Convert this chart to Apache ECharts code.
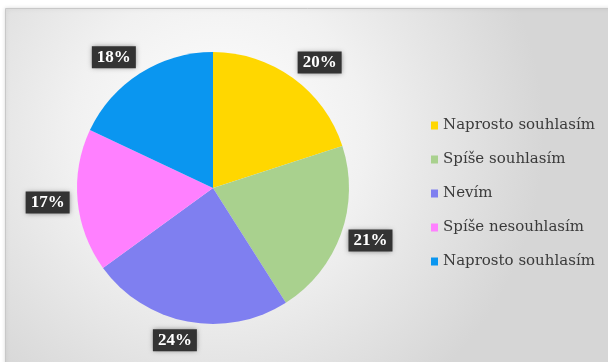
<!DOCTYPE html>
<html>
<head>
<meta charset="utf-8">
<script src="https://cdn.jsdelivr.net/npm/echarts@6/dist/echarts.min.js"></script>
<style>
  html, body { margin: 0; padding: 0; background: #ffffff; }
  #chart { width: 608px; height: 362px; }
</style>
</head>
<body>
<div id="chart"></div>
<script>
// Survey answers and their shares (percent)
const categories = ['Naprosto souhlasím', 'Spíše souhlasím', 'Nevím', 'Spíše nesouhlasím', 'Naprosto souhlasím '];
const shares = [20, 21, 24, 17, 18];
const colors = ['#FFD700', '#A9D18E', '#7F7FF0', '#FF80FF', '#0A96F0'];

const PIE_CENTER = [213, 188];
const PIE_RADIUS = 136;
const START_ANGLE = 90;

// Mid angle (degrees, counter-clockwise from +x) of each slice, drawn clockwise from START_ANGLE
const total = shares.reduce((a, b) => a + b, 0);
const midAngles = [];
let acc = 0;
shares.forEach(v => {
  midAngles.push(START_ANGLE - (acc + v / 2) / total * 360);
  acc += v;
});

const chart = echarts.init(document.getElementById('chart'), null, { renderer: 'canvas' });

chart.setOption({
  backgroundColor: '#ffffff',
  animation: false,
  color: colors,
  graphic: [{
    type: 'rect',
    z: -10,
    silent: true,
    shape: { x: 5.5, y: 8.5, width: 610, height: 360 },
    style: {
      fill: new echarts.graphic.RadialGradient(0.35, 0.35, 0.9, [
        { offset: 0, color: '#ffffff' },
        { offset: 0.45, color: '#f1f1f1' },
        { offset: 1, color: '#d6d6d6' }
      ]),
      stroke: '#c8c8c8',
      lineWidth: 1,
      shadowBlur: 4,
      shadowColor: 'rgba(0,0,0,0.15)'
    }
  }],
  legend: {
    orient: 'vertical',
    left: 431,
    top: 118,
    padding: 0,
    itemWidth: 7,
    itemHeight: 8,
    itemGap: 19,
    icon: 'rect',
    textStyle: {
      fontFamily: 'DejaVu Serif',
      fontSize: 15,
      color: '#3a3a3a'
    },
    data: categories
  },
  series: [{
    type: 'pie',
    center: PIE_CENTER,
    radius: PIE_RADIUS,
    startAngle: START_ANGLE,
    clockwise: true,
    avoidLabelOverlap: false,
    data: categories.map((name, i) => ({ name: name, value: shares[i] })),
    label: {
      show: true,
      position: 'outside',
      formatter: '{d}%',
      fontFamily: 'Liberation Serif',
      fontWeight: 'bold',
      fontSize: 17,
      color: '#ffffff',
      backgroundColor: '#333333',
      padding: [3, 5, 2, 5],
      shadowBlur: 5,
      shadowColor: 'rgba(0,0,0,0.45)'
    },
    labelLine: { show: false },
    // Data labels sit just outside the rim, pushed away from the slice edge
    labelLayout: function (params) {
      const a = midAngles[params.dataIndex] * Math.PI / 180;
      const c = Math.cos(a), s = Math.sin(a);
      const r = PIE_RADIUS + 8;
      const hw = params.labelRect.width / 2;
      const hh = params.labelRect.height / 2;
      const fx = Math.max(-1, Math.min(1, 2.7 * c));
      return {
        x: PIE_CENTER[0] + r * c + fx * hw,
        y: PIE_CENTER[1] - r * s - s * hh,
        align: 'center',
        verticalAlign: 'middle'
      };
    },
    emphasis: { disabled: true }
  }]
});
</script>
</body>
</html>
